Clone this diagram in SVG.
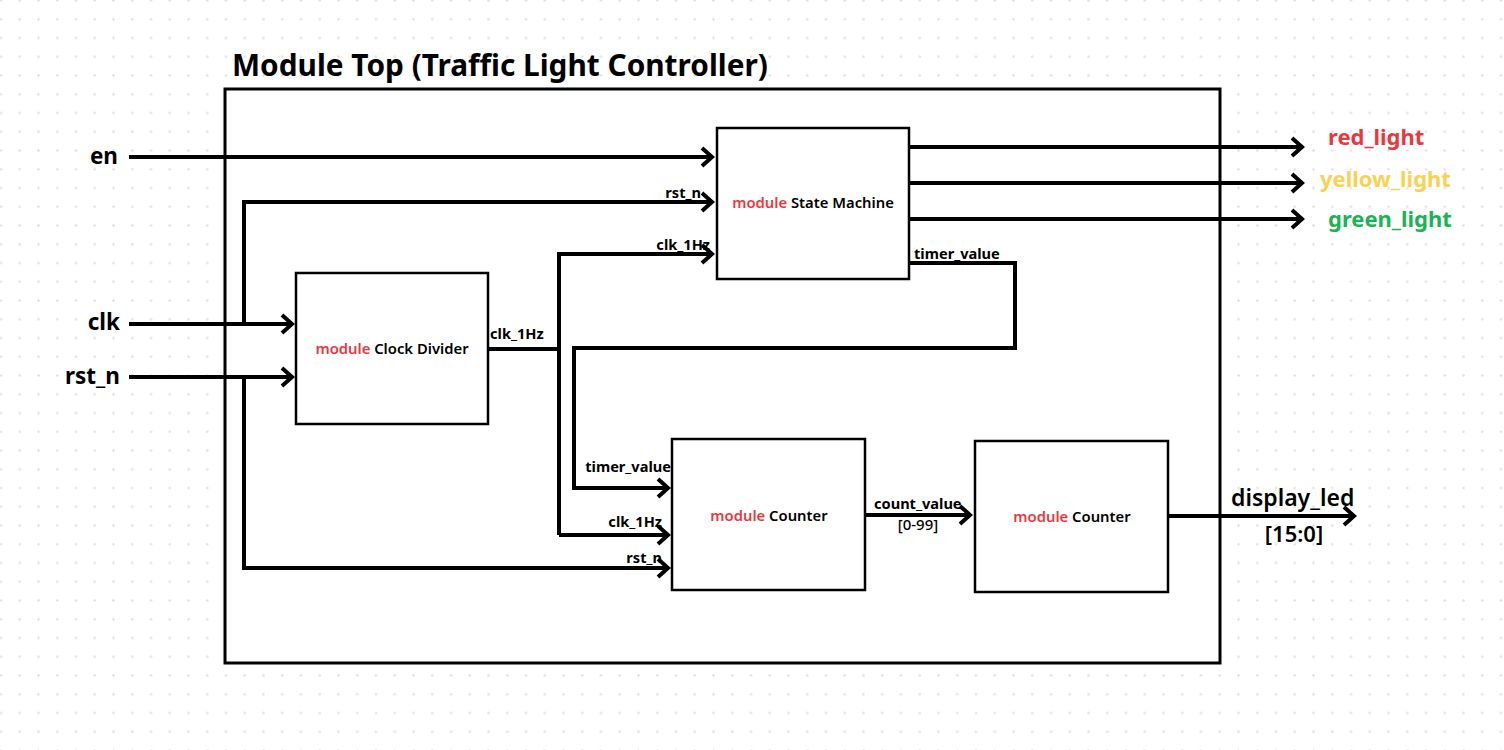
<svg xmlns="http://www.w3.org/2000/svg" width="1504" height="750" viewBox="0 0 1504 750">
<style>
.box{fill:#fff;stroke:#000;stroke-width:2.5}
.frame{fill:#fff;stroke:#000;stroke-width:3}
.wire{fill:none;stroke:#000;stroke-width:4;stroke-linejoin:miter}
.arr{marker-end:url(#ah)}
text{font-family:"Noto Sans","Liberation Sans",sans-serif;fill:#000}
.title{font-size:29.8px;font-weight:700}
.io{font-size:22.5px;font-weight:700}
.sig{font-size:14.6px;font-weight:700}
.mod{font-size:14.8px;font-weight:600;text-anchor:middle}
.red{fill:#e8383d}
.out{font-size:22px;font-weight:700}
</style>
<defs>
<pattern id="dots" patternUnits="userSpaceOnUse" x="-8.375" y="-8.875" width="18.75" height="18.75">
<circle cx="9.375" cy="9.375" r="1.2" fill="#dedede"/>
</pattern>
<marker id="ah" markerUnits="userSpaceOnUse" viewBox="-14 -12 18 24" refX="0" refY="0" markerWidth="18" markerHeight="24" orient="auto" overflow="visible">
<path d="M-10,-9 L0,0 L-10,9" fill="none" stroke="#000" stroke-width="4"/>
</marker>
</defs>
<rect width="1504" height="750" fill="#fff"/>
<rect width="1504" height="750" fill="url(#dots)"/>

<g id="top">
<text class="title" x="232" y="76">Module Top (Traffic Light Controller)</text>
<rect class="frame" x="225" y="89" width="995" height="574"/>
</g>

<g id="connectors">
<path class="wire arr" d="M129,157 H712"/>
<path class="wire arr" d="M244,324 V202 H712"/>
<path class="wire arr" d="M129,324 H292"/>
<path class="wire arr" d="M129,377 H292"/>
<path class="wire arr" d="M244,377 V568 H668"/>
<path class="wire" d="M488,349 H559"/>
<path class="wire arr" d="M559,535 V254 H712"/>
<path class="wire arr" d="M559,535 H668"/>
<path class="wire arr" d="M908,263 H1015 V348 H574 V488 H668"/>
<path class="wire arr" d="M864,515 H970"/>
<path class="wire arr" d="M1167,516 H1354"/>
<path class="wire arr" d="M909,147 H1302"/>
<path class="wire arr" d="M909,183 H1302"/>
<path class="wire arr" d="M909,219 H1302"/>
</g>

<g id="labels">
<text class="io" x="118" y="164" text-anchor="end">en</text>
<text class="io" x="120" y="330" text-anchor="end">clk</text>
<text class="io" x="120" y="384" text-anchor="end">rst_n</text>
<text class="sig" x="701" y="198" text-anchor="end">rst_n</text>
<text class="sig" x="710" y="250" text-anchor="end">clk_1Hz</text>
<text class="sig" x="490" y="339">clk_1Hz</text>
<text class="sig" x="914" y="259">timer_value</text>
<text class="sig" x="671" y="472" text-anchor="end">timer_value</text>
<text class="sig" x="662" y="527" text-anchor="end">clk_1Hz</text>
<text class="sig" x="662" y="563" text-anchor="end">rst_n</text>
<text class="sig" x="874" y="509">count_value</text>
<text x="918" y="530" font-size="15" font-weight="500" text-anchor="middle">[0-99]</text>
<text x="1231" y="506" font-size="23" font-weight="600">display_led</text>
<text x="1294" y="542" font-size="22" font-weight="600" text-anchor="middle">[15:0]</text>
<text class="out" x="1328" y="145" style="fill:#e8383d">red_light</text>
<text class="out" x="1320" y="187" style="fill:#f7d254">yellow_light</text>
<text class="out" x="1328" y="227" style="fill:#1bb356">green_light</text>
</g>

<g id="state-machine">
<rect class="box" x="717" y="128" width="192" height="151"/>
<text class="mod" x="813" y="208"><tspan class="red">module</tspan> State Machine</text>
</g>

<g id="clock-divider">
<rect class="box" x="296" y="273" width="192" height="151"/>
<text class="mod" x="392" y="354"><tspan class="red">module</tspan> Clock Divider</text>
</g>

<g id="counter-1">
<rect class="box" x="672" y="439" width="193" height="151"/>
<text class="mod" x="769" y="521"><tspan class="red">module</tspan> Counter</text>
</g>

<g id="counter-2">
<rect class="box" x="975" y="441" width="193" height="151"/>
<text class="mod" x="1072" y="522"><tspan class="red">module</tspan> Counter</text>
</g>
</svg>
